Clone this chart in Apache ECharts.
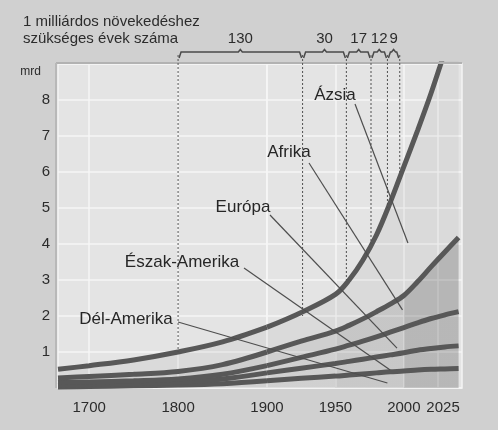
<!DOCTYPE html>
<html><head><meta charset="utf-8">
<script src="https://cdn.jsdelivr.net/npm/echarts@6/dist/echarts.min.js"></script>
<style>html,body{margin:0;padding:0;background:#d0d0d0;}#c{width:498px;height:430px;}</style>
</head><body><div id="c"></div>
<script>
// ---- data (billions) ----
const years = [1665,1700,1750,1800,1850,1900,1925,1950,1960,1970,1980,1990,2000,2010,2020,2030,2040];
const delAmerika   = [0.03,0.04,0.06,0.08,0.12,0.20,0.27,0.33,0.36,0.39,0.42,0.45,0.47,0.50,0.52,0.53,0.54];
const eszakAmerika = [0.05,0.06,0.06,0.08,0.13,0.22,0.28,0.35,0.38,0.41,0.44,0.47,0.51,0.55,0.58,0.61,0.63];
const europa       = [0.07,0.07,0.08,0.09,0.13,0.20,0.30,0.40,0.45,0.50,0.56,0.63,0.70,0.76,0.83,0.89,0.95];
const afrika       = [0.13,0.15,0.18,0.21,0.27,0.38,0.45,0.50,0.55,0.62,0.70,0.78,0.89,1.14,1.44,1.75,2.06];
const azsia        = [0.24,0.30,0.40,0.54,0.63,0.69,0.80,1.02,1.26,1.63,2.13,2.82,3.58,4.20,4.83,5.57,6.32];
const continents   = ['Dél-Amerika','Észak-Amerika','Európa','Afrika','Ázsia'];
const xTicksEarly  = [1700,1800];
const xTicksLate   = [1900,1950,2000,2025];
const yTicks       = [1,2,3,4,5,6,7,8];
const milestoneYears  = [1800,1926,1958,1976,1988,1997];
const milestoneValues = [1,2,3,4,5,6];
const gapLabels       = ['130','30','17','12','9'];
const headerLines     = ['1 milliárdos növekedéshez','szükséges évek száma'];
const unitLabel       = 'mrd';
// pointer targets [year, value] for the continent labels
const pointerTargets  = [[1988,0.14],[1990,0.5],[1995,1.11],[1999,2.17],[2003,4.03]];

// ---- layout / style ----
const FONT = "'Liberation Sans', Arial, sans-serif";
const TXT = '#2c2c2c';
const splitYear = 1900;
const projYears = [1950, 2000];
const labelLayout = [ // text centre + pointer start (pixels)
  {x:126, y:319, sx:178, sy:322},
  {x:182, y:262, sx:244, sy:268},
  {x:243, y:207, sx:270, sy:215},
  {x:289, y:152, sx:309, sy:163},
  {x:335, y:95,  sx:355, sy:104}
];
const bandAlpha = [0.085,0.085,0.085,0.095,0.045];

const bandValues = [delAmerika, eszakAmerika, europa, afrika, azsia];
// items are [value, year] so that the stack runs on the value dimension
function pairs(arr, g){
  return years.map((y,i)=>[arr[i],y]).filter(p=> g===0 ? p[1]<=splitYear : p[1]>=splitYear);
}
const lateMin = splitYear, lateMax = 2042.5, lastYear = years[years.length-1];
function fillFor(g,k){
  const a = bandAlpha[k];
  if(g===0 || k===4) return 'rgba(0,0,0,'+a+')';
  const f1 = (projYears[0]-splitYear)/(lastYear-splitYear);
  const f2 = (projYears[1]-splitYear)/(lastYear-splitYear);
  const c0='rgba(0,0,0,'+a+')', c1='rgba(0,0,0,'+(a+0.035)+')', c2='rgba(0,0,0,'+(a+0.11)+')';
  return {type:'linear', x:0, y:0, x2:1, y2:0, colorStops:[
    {offset:0,color:c0},{offset:f1,color:c0},{offset:f1,color:c1},{offset:f2,color:c1},{offset:f2,color:c2},{offset:1,color:c2}
  ]};
}

const series = [];
[0,1].forEach(g=>{
  bandValues.forEach((vals,k)=>{
    series.push({
      type:'line', name:continents[k], xAxisIndex:g, yAxisIndex:g, stack:'s'+g,
      dimensions:['mrd','year'], encode:{x:1, y:0},
      smooth:0.35, symbol:'none', silent:true,
      data:pairs(vals,g),
      lineStyle:{color:'#585858', width:5},
      areaStyle:{color:fillFor(g,k), opacity:1}
    });
  });
});

const commonGrid = {top:64, height:324, show:true, backgroundColor:'#e4e4e4', borderColor:'#f4f4f4', borderWidth:1.5};
function xAxis(g,min,max,ticks){
  return {type:'value', gridIndex:g, min:min, max:max,
    axisLine:{show:false},
    axisTick:{show:false, customValues:ticks},
    splitLine:{show:true, lineStyle:{color:'#f6f6f6', width:1.5}},
    axisLabel:{customValues:ticks, margin:12, color:TXT, fontSize:15, fontFamily:FONT,
      formatter:v=> v===2025 ? '{r|'+v+'}' : String(v),
      rich:{r:{padding:[0,0,0,10], fontSize:15, fontFamily:FONT, color:TXT}}}
  };
}
function yAxis(g,show){
  return {type:'value', gridIndex:g, min:0, max:9, interval:1,
    axisLine:{show:false}, axisTick:{show:false},
    splitLine:{show:true, lineStyle:{color:'#f6f6f6', width:1.5}},
    axisLabel:{show:show, margin:8, color:TXT, fontSize:15, fontFamily:FONT,
      formatter:v=> yTicks.indexOf(v)>=0 ? String(v) : ''}
  };
}

const chart = echarts.init(document.getElementById('c'), null, {renderer:'canvas'});
chart.setOption({
  animation:false,
  backgroundColor:'#d0d0d0',
  grid:[Object.assign({left:58, width:209}, commonGrid), Object.assign({left:267, width:195}, commonGrid)],
  xAxis:[xAxis(0,years[0],splitYear,xTicksEarly), xAxis(1,lateMin,lateMax,xTicksLate)],
  yAxis:[yAxis(0,true), yAxis(1,false)],
  series:series
});

// ---- annotations through the library's coordinate conversion ----
function px(year,val){
  const g = year<=splitYear ? 0 : 1;
  return chart.convertToPixel({xAxisIndex:g, yAxisIndex:g}, [year,val]);
}
const graphics = [];
graphics.push({type:'line', shape:{x1:56, y1:63, x2:462, y2:63}, style:{stroke:'#b2b2b2', lineWidth:2}, z:50});
graphics.push({type:'line', shape:{x1:56, y1:63, x2:56, y2:388}, style:{stroke:'#b8b8b8', lineWidth:2}, z:50});
headerLines.forEach((t,i)=>graphics.push({type:'text', x:23, y:22+i*17, style:{text:t, font:'15px '+FONT, fill:TXT, textVerticalAlign:'middle'}, z:60}));
graphics.push({type:'text', x:41, y:72, style:{text:unitLabel, font:'12px '+FONT, fill:TXT, textAlign:'right', textVerticalAlign:'middle'}, z:60});
const bY = 52;
const mx = milestoneYears.map((y,i)=>px(y,milestoneValues[i]));
mx.forEach(p=>{
  graphics.push({type:'line', shape:{x1:p[0], y1:bY+3, x2:p[0], y2:p[1]}, style:{stroke:'#505050', lineWidth:1, lineDash:[2,2]}, z:55});
});
for(let i=0;i<gapLabels.length;i++){
  const x1 = mx[i][0]+1, x2 = mx[i+1][0]-1, m=(x1+x2)/2;
  graphics.push({type:'polyline', shape:{points:[[x1,bY+6],[x1+2,bY],[m-2,bY],[m,bY-2.5],[m+2,bY],[x2-2,bY],[x2,bY+6]]},
    style:{stroke:'#4a4a4a', lineWidth:1.5, fill:null}, z:55});
  graphics.push({type:'text', x:m, y:39, style:{text:gapLabels[i], font:'15px '+FONT, fill:TXT, textAlign:'center', textVerticalAlign:'middle'}, z:60});
}
continents.forEach((name,k)=>{
  const L = labelLayout[k];
  const e = px(pointerTargets[k][0], pointerTargets[k][1]);
  graphics.push({type:'line', shape:{x1:L.sx, y1:L.sy, x2:e[0], y2:e[1]}, style:{stroke:'#4e4e4e', lineWidth:1.2}, z:58});
  graphics.push({type:'text', x:L.x, y:L.y, style:{text:name, font:'17px '+FONT, fill:'#262626', textAlign:'center', textVerticalAlign:'middle'}, z:60});
});
chart.setOption({graphic:graphics});
</script></body></html>
